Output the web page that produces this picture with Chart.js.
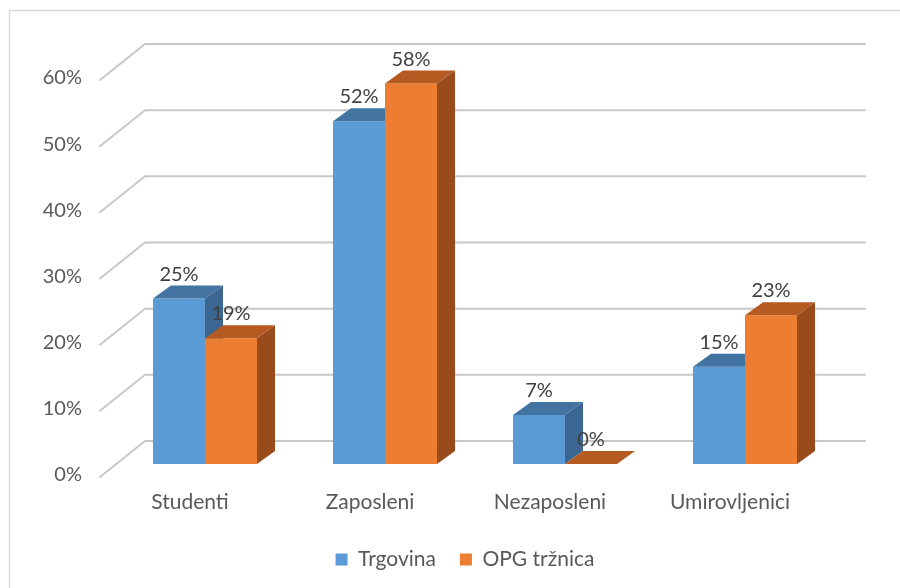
<!DOCTYPE html>
<html>
<head>
<meta charset="utf-8">
<script src="https://cdn.jsdelivr.net/npm/chart.js@4.4.0/dist/chart.umd.min.js"></script>
<style>
  html, body { margin: 0; padding: 0; background: #fff; }
</style>
</head>
<body>
<canvas id="chart" width="900" height="588"></canvas>
<script>
const categories = ['Studenti', 'Zaposleni', 'Nezaposleni', 'Umirovljenici'];
const trgovina = [25, 51.8, 7.4, 14.7];
const opgTrznica = [19, 57.5, 0, 22.5];
const yTickValues = [0, 10, 20, 30, 40, 50, 60];

const FONT = 'Lato';
const TEXT = '#595959';

// offsets for the fake 3D look
const SHIFT_X = 15, SHIFT_Y = -11;   // bars sit a bit behind the front wall
const DEPTH_X = 18, DEPTH_Y = -13;   // bar depth
const WALL_X = 45, WALL_Y = -34;     // back wall
const LEGEND_SHIFT = 55;

const box3d = {
  id: 'box3d',
  afterLayout(chart) {
    // legend sits under the plot, not under the whole canvas
    chart.legend.left += LEGEND_SHIFT;
    chart.legend.right += LEGEND_SHIFT;
  },
  beforeDraw(chart) {
    const ctx = chart.ctx;
    ctx.save();
    ctx.strokeStyle = '#d9d9d9';
    ctx.lineWidth = 1.5;
    ctx.strokeRect(9.5, 10.5, 900, 600);
    ctx.restore();
  },
  beforeDatasetsDraw(chart) {
    const { ctx, chartArea: a, scales: { y } } = chart;
    ctx.save();
    ctx.strokeStyle = '#c8c8c8';
    ctx.lineWidth = 2;
    ctx.lineCap = 'round';
    ctx.lineJoin = 'round';
    y.ticks.forEach(t => {
      const py = y.getPixelForValue(t.value);
      ctx.beginPath();
      ctx.moveTo(a.left, py + 2);
      ctx.lineTo(a.left + WALL_X, py + WALL_Y);
      ctx.lineTo(a.right + WALL_X, py + WALL_Y);
      ctx.stroke();
    });
    ctx.restore();
  },
  // chart.js paints the last dataset first; we want blue then orange
  beforeDatasetDraw() {
    return false;
  },
  afterDatasetsDraw(chart) {
    const ctx = chart.ctx;
    ctx.save();
    ctx.translate(SHIFT_X, SHIFT_Y);
    chart.data.datasets.forEach((ds, i) => {
      chart.getDatasetMeta(i).data.forEach(bar => {
        bar.draw(ctx);
        const { x, y, base, width } = bar.getProps(['x', 'y', 'base', 'width'], true);
        const l = x - width / 2, r = x + width / 2;
        ctx.fillStyle = ds.sideColor;
        ctx.beginPath();
        ctx.moveTo(r, y);
        ctx.lineTo(r + DEPTH_X, y + DEPTH_Y);
        ctx.lineTo(r + DEPTH_X, base + DEPTH_Y);
        ctx.lineTo(r, base);
        ctx.closePath();
        ctx.fill();
        ctx.fillStyle = ds.topColor;
        ctx.beginPath();
        ctx.moveTo(l, y);
        ctx.lineTo(r, y);
        ctx.lineTo(r + DEPTH_X, y + DEPTH_Y);
        ctx.lineTo(l + DEPTH_X, y + DEPTH_Y);
        ctx.closePath();
        ctx.fill();
      });
    });

    ctx.font = '20px ' + FONT;
    ctx.fillStyle = '#404040';
    ctx.textAlign = 'center';
    ctx.textBaseline = 'alphabetic';
    chart.data.datasets.forEach((ds, i) => {
      chart.getDatasetMeta(i).data.forEach((bar, j) => {
        const { x, y } = bar.getProps(['x', 'y'], true);
        ctx.fillText(Math.round(ds.data[j]) + '%', x, y - 18);
      });
    });
    ctx.restore();
  }
};

new Chart(document.getElementById('chart'), {
  type: 'bar',
  data: {
    labels: categories,
    datasets: [
      {
        label: 'Trgovina',
        data: trgovina,
        backgroundColor: '#5b9bd5',
        topColor: '#4373a1',
        sideColor: '#3b6692',
        borderWidth: 0,
        clip: false
      },
      {
        label: 'OPG tržnica',
        data: opgTrznica,
        backgroundColor: '#ed7d31',
        topColor: '#b55b22',
        sideColor: '#9a4b1c',
        borderWidth: 0,
        clip: false
      }
    ]
  },
  options: {
    responsive: false,
    animation: false,
    devicePixelRatio: 1,
    layout: { padding: { top: 78, right: 80, left: 0, bottom: 8 } },
    datasets: { bar: { barPercentage: 1, categoryPercentage: 0.578 } },
    scales: {
      x: {
        grid: { display: false, drawTicks: false },
        border: { display: false },
        ticks: { font: { family: FONT, size: 21 }, color: TEXT, padding: 15, maxRotation: 0, autoSkip: false },
        afterFit: s => { s.height = 50; }
      },
      y: {
        min: 0,
        max: 60,
        grid: { display: false, drawTicks: false },
        border: { display: false },
        afterBuildTicks: s => { s.ticks = yTickValues.map(v => ({ value: v })); },
        ticks: { font: { family: FONT, size: 20 }, color: TEXT, padding: 18, callback: v => v + '%' },
        afterFit: s => { s.width = 100; }
      }
    },
    plugins: {
      tooltip: { enabled: false },
      legend: {
        position: 'bottom',
        maxHeight: 65,
        labels: { font: { family: FONT, size: 21 }, color: TEXT, boxWidth: 12, boxHeight: 12, padding: 24 }
      }
    }
  },
  plugins: [box3d]
});
</script>
</body>
</html>
